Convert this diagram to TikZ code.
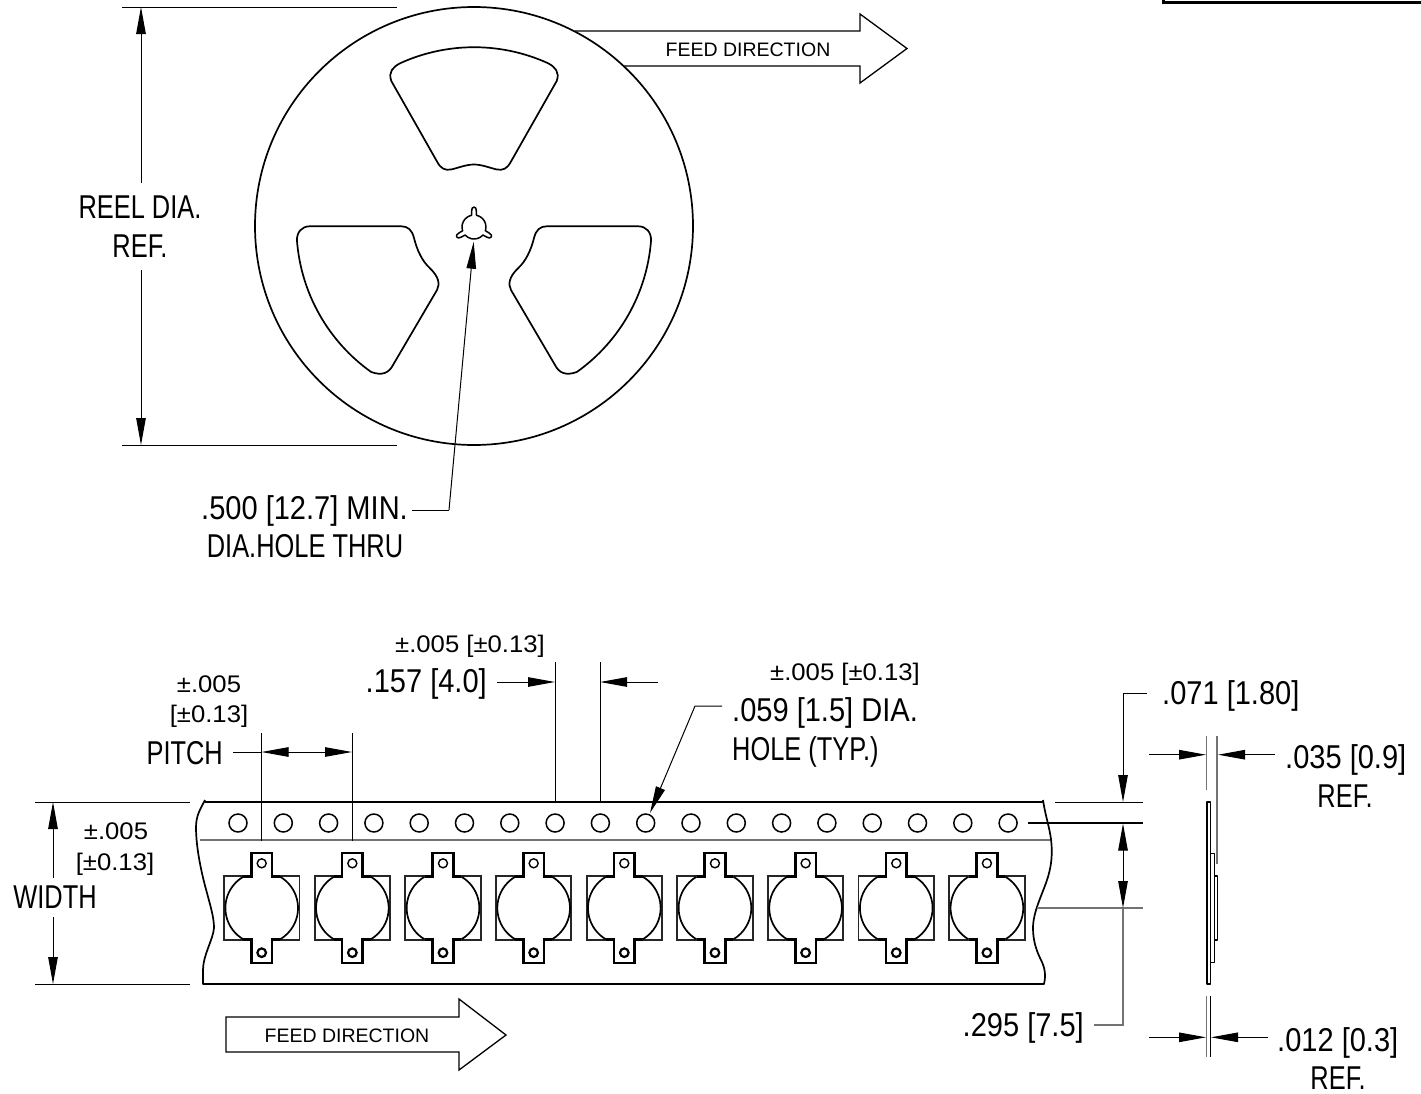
\documentclass[tikz,border=0pt]{standalone}
\usepackage{fontspec}
\usetikzlibrary{arrows.meta}
\setmainfont{Liberation Sans}
\newfontfamily\bigf[FakeStretch=0.77]{Liberation Sans}
\newfontfamily\numf[FakeStretch=0.88]{Liberation Sans}
\newfontfamily\midf[FakeStretch=1.07]{Liberation Sans}
\newfontfamily\feedf{Liberation Sans}
\tikzset{
 obj/.style={line width=1.7pt,black,line join=round},
 thick obj/.style={line width=2.8pt,black,line join=miter},
 dim/.style={line width=1pt,black},
 ext/.style={line width=1.1pt,black!55},
 arr/.style={line width=1pt,black,-{Triangle[length=27pt,width=9.5pt]}},
 big/.style={inner sep=0pt,text height=24pt,text depth=0pt,font=\bigf\fontsize{33}{36}\selectfont},
 num/.style={inner sep=0pt,text height=24pt,text depth=0pt,font=\numf\fontsize{33}{36}\selectfont},
 mid/.style={inner sep=0pt,text height=17pt,text depth=0pt,font=\midf\fontsize{24}{28}\selectfont},
 feed/.style={inner sep=0pt,text height=14pt,text depth=0pt,font=\feedf\fontsize{19.5}{22}\selectfont},
}
\begin{document}
\begin{tikzpicture}[x=1pt,y=-1pt]
\useasboundingbox (0,0) rectangle (1421,1093);
\fill[white] (0,0) rectangle (1421,1093);
% title box fragment
\draw[line width=3pt] (1163,0) -- (1163,2) -- (1421,2);
% reel
\coordinate (rc) at (474,226);
\draw[obj] (rc) circle[radius=219];
% top window
\draw[obj] (400,63.3) arc[start angle=245.5,end angle=294.5,radius=178.7]
  .. controls (555,67) and (560,72) .. (556.7,81)
  -- (511,161.5) .. controls (507,169) and (503,170.5) .. (497,169.5)
  .. controls (490,168) and (482,164.5) .. (474,164.5)
  .. controls (466,164.5) and (458,168) .. (451,169.5)
  .. controls (445,170.5) and (441,169) .. (437,161.5)
  -- (391.3,81) .. controls (388,72) and (393,67) .. cycle;
% right and left windows
\foreach \s/\o in {1/0,-1/948}{
\begin{scope}[xshift=\o pt,xscale=\s]
\draw[obj] (546.7,226.3) -- (638.3,226.3)
  .. controls (646,226.3) and (651.5,232) .. (651,241)
  arc[start angle=4.5,end angle=54.5,radius=178]
  .. controls (566,376) and (559,373) .. (555,365)
  -- (511,290) .. controls (508,284) and (509,277) .. (518,268.3)
  .. controls (526,261) and (531,250) .. (534,238)
  .. controls (536,230) and (540,226.3) .. cycle;
\end{scope}}
% hub hole
\begin{scope}[shift={(474,227)}]
\draw[obj,line width=1.5pt] (-102:12)
 \foreach \a in {-90,30,150}{
  -- (\a-12:12) .. controls (\a-10:13) and (\a-9:14) .. (\a-8.5:16)
  .. controls (\a-8:21.5) and (\a+8:21.5) .. (\a+8.5:16)
  .. controls (\a+9:14) and (\a+10:13) .. (\a+12:12)
  arc[start angle=\a+12,end angle=\a+108,radius=12]
 } -- cycle;
\end{scope}
% reel dimension
\draw[dim] (122,7) -- (397,7) (122,445) -- (397,445);
\coordinate (rt) at (141,7); \coordinate (rb) at (141,445);
\draw[arr] (141,183) -- (rt);
\draw[arr] (141,270) -- (rb);
\node[big] (reel1) at (140,206) {REEL DIA.};
\node[big] (reel2) at (140,245) {REF.};
\node[num,anchor=west] (hole1) at (201,507) {.500 [12.7] MIN.};
\node[big] (hole2) at (305,545) {DIA.HOLE THRU};
\coordinate (hp) at (473.7,241.7);
\draw[dim] (412,510) -- (449,510);
\draw[arr] (449,510) -- (hp);
% top feed arrow
\draw[dim,line width=1.3pt] (575,31) -- (860,31) -- (860,14) -- (907,48.5) -- (860,83) -- (860,66) -- (623,66);
\node[feed] (feedt) at (748,49) {FEED DIRECTION};
% bottom feed arrow
\draw[dim,line width=1.3pt] (226,1017) -- (459,1017) -- (459,999) -- (506,1035) -- (459,1070) -- (459,1052) -- (226,1052) -- cycle;
\node[feed] (feedb) at (347,1035) {FEED DIRECTION};
% tape
\draw[obj] (205,800) .. controls (201,808) and (196,815) .. (196,827)
  .. controls (196,845) and (200,868) .. (207,893)
  .. controls (211,908) and (214,918) .. (214,928)
  .. controls (213,940) and (203,955) .. (203,970) -- (203,984) -- (1044,984)
  .. controls (1046,975) and (1045,968) .. (1041,960)
  .. controls (1036,950) and (1033,940) .. (1033,928)
  .. controls (1033,912) and (1042,895) .. (1047,880)
  .. controls (1051,868) and (1052,858) .. (1051.7,848)
  .. controls (1051,830) and (1046,820) .. (1043,800);
\draw[obj] (205,802) -- (1043,802);
\draw[ext,line width=1.6pt] (200,840) -- (1050,840);
\foreach \i in {0,...,17}{
  \draw[line width=1.5pt] ({238+45.3*\i},823) circle[radius=9];
}
\foreach \i in {0,...,8}{
\begin{scope}[shift={({261.7+90.65*\i},908)}]
  \draw[line width=1.8pt,black!85] (-37.7,-32) rectangle (37.7,32);
  \fill[white] (-10.3,-31.3) -- (-10.3,-55) -- (10.3,-55) -- (10.3,-31.3) -- (18.4,-31.3)
     arc[start angle=-59.6,end angle=59.6,radius=36.3] -- (10.3,31.3) -- (10.3,55) -- (-10.3,55) -- (-10.3,31.3) -- (-18.4,31.3)
     arc[start angle=120.4,end angle=239.6,radius=36.3] -- cycle;
  \draw[obj] (18.4,-31.3) arc[start angle=-59.6,end angle=59.6,radius=36.3];
  \draw[obj] (-18.4,31.3) arc[start angle=120.4,end angle=239.6,radius=36.3];
  \draw[thick obj] (-18.4,-31.3) -- (-10.3,-31.3) -- (-10.3,-55) -- (10.3,-55) -- (10.3,-31.3) -- (18.4,-31.3);
  \draw[thick obj] (-18.4,31.3) -- (-10.3,31.3) -- (-10.3,55) -- (10.3,55) -- (10.3,31.3) -- (18.4,31.3);
  \draw[line width=1.4pt] (0,-44.7) circle[radius=4.5];
  \draw[line width=2.2pt] (0,44.7) circle[radius=4.3];
\end{scope}}
% width dimension
\draw[dim] (35,802) -- (190,802) (35,984) -- (190,984);
\coordinate (wt) at (53,802); \coordinate (wb) at (53,984);
\draw[arr] (53,878) -- (wt);
\draw[arr] (53,917) -- (wb);
\node[big] (width) at (55,896) {WIDTH};
\node[mid] (wtol1) at (116,831) {±.005};
\node[mid] (wtol2) at (115,862) {[±0.13]};
% pitch
\draw[dim] (261,733) -- (261,841) (352.5,733) -- (352.5,841);
\draw[dim] (233,752) -- (261,752);
\coordinate (pl) at (261.5,752); \coordinate (pr) at (352,752);
\draw[arr] (300,752) -- (pl);
\draw[arr] (300,752) -- (pr);
\node[big,anchor=east] (pitch) at (223,752) {PITCH};
\node[mid] (ptol1) at (209,684) {±.005};
\node[mid] (ptol2) at (209,714) {[±0.13]};
% .157
\draw[dim] (555,662) -- (555,802) (600,662) -- (600,802);
\coordinate (sl) at (555,682); \coordinate (sr) at (600,682);
\draw[arr] (497,682) -- (sl);
\draw[arr] (658,682) -- (sr);
\node[num,anchor=east] (d157) at (487,680) {.157 [4.0]};
\node[mid] (t157) at (470,644) {±.005 [±0.13]};
% .059
\coordinate (ht) at (650,813);
\draw[arr] (722,706) -- (695,706) -- (ht);
\node[num,anchor=west] (d059) at (732,709) {.059 [1.5] DIA.};
\node[big,anchor=west] (d059b) at (732,748) {HOLE (TYP.)};
\node[mid] (t059) at (845,672) {±.005 [±0.13]};
% right dims
\draw[dim] (1055,802) -- (1143,802);
\draw[dim,line width=1.1pt] (1028,823) -- (1143,823);
\draw[ext] (1037,908) -- (1143,908);
\coordinate (a1) at (1123,802); \coordinate (a2) at (1123,823.5); \coordinate (a3) at (1123,908);
\draw[dim] (1147,693) -- (1123,693);
\draw[arr] (1123,693) -- (a1);
\draw[arr] (1123,865) -- (a2);
\draw[arr] (1123,865) -- (a3);
\draw[ext] (1123,908) -- (1123,1025) -- (1094,1025);
\node[num,anchor=west] (d071) at (1162,692) {.071 [1.80]};
\node[num,anchor=east] (d295) at (1084,1024) {.295 [7.5]};
% side view
\draw[obj] (1206.7,801.7) rectangle (1210.5,984);
\draw[obj,line width=1.4pt] (1210.5,853.3) -- (1214.3,853.3) -- (1214.3,962.7) -- (1210.5,962.7);
\draw[obj] (1214.3,875.7) -- (1217.5,875.7) -- (1217.5,940) -- (1214.3,940);
\draw[ext] (1206.7,735.7) -- (1206.7,790) (1217,735.7) -- (1217,864);
\coordinate (b1) at (1206,754.7); \coordinate (b2) at (1218,754.7);
\draw[arr] (1149.3,754.7) -- (b1);
\draw[arr] (1275,754.7) -- (b2);
\node[num,anchor=west] (d035) at (1285,756) {.035 [0.9]};
\node[big] (r035) at (1345,795) {REF.};
\draw[ext] (1206.7,996) -- (1206.7,1056.7);
\draw[dim] (1210.3,996) -- (1210.3,1056.7);
\coordinate (c1) at (1206,1037.3); \coordinate (c2) at (1211,1037.3);
\draw[arr] (1149.3,1037.3) -- (c1);
\draw[arr] (1268,1037.3) -- (c2);
\node[num,anchor=west] (d012) at (1277,1039) {.012 [0.3]};
\node[big] (r012) at (1338,1077.5) {REF.};
\end{tikzpicture}
\end{document}
